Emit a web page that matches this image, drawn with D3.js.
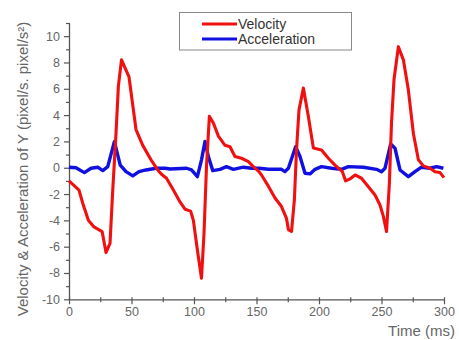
<!DOCTYPE html>
<html>
<head>
<meta charset="utf-8">
<script src="https://cdn.jsdelivr.net/npm/d3@7"></script>
<style>
  body { margin: 0; background: #fff; }
  text { font-family: "Liberation Sans", Arial, sans-serif; }
</style>
</head>
<body>
<svg id="chart" width="459" height="340"></svg>
<script>
// velocity of Y (time in ms)
const velocityTime = [0, 8, 11, 15.5, 20, 26.5, 29.6, 32.8, 35, 37.6, 39.5, 42, 48, 53.6, 59, 65.6, 71, 74,
  78, 83.5, 88.8, 92.8, 97.3, 99.5, 102.7, 106, 108, 110, 112.3, 115.5, 119.5, 124.8, 128.8, 132.8, 138, 143.5, 147.5,
  152, 154, 159.5, 164.8, 170, 174, 175.5, 178, 180.3, 182, 184, 187.5, 191.5, 195.5, 202, 207.5, 212.8, 218.7, 221.3,
  224.8, 228.8, 234, 239.5, 244.8, 248.8, 251.5, 254, 256.3, 258, 260, 263.5, 267.5, 271.5, 275.5, 279.5, 283.5, 288.8,
  292.8, 296.8, 300];
const velocityValues = [-1.0, -1.7, -2.7, -4.0, -4.5, -4.85, -6.45, -5.75, -1.7, 2.6, 6.2, 8.2, 6.9, 2.9, 1.7, 0.6, -0.17, -0.5,
  -0.8, -1.7, -2.6, -3.15, -3.3, -4.0, -6.25, -8.4, -5.0, 0.1, 3.9, 3.4, 2.4, 1.7, 1.6, 0.85, 0.72, 0.47, 0.08,
  -0.3, -0.55, -1.4, -2.3, -2.95, -3.85, -4.7, -4.85, -2.45, 1.35, 4.4, 6.05, 3.9, 1.5, 1.35, 0.72, 0.2, -0.3, -1.0,
  -0.85, -0.55, -0.8, -1.45, -2.07, -2.83, -3.7, -4.85, -1.2, 3.4, 6.7, 9.2, 8.2, 5.9, 2.6, 0.6, 0.14, -0.04,
  -0.3, -0.37, -0.75];

// acceleration of Y
const accelTime = [0, 5.6, 12.3, 17.6, 23, 27, 31, 36.3, 41, 45.6, 51, 56, 61.6, 69.6, 77,
  80.8, 94, 98, 102.7, 106, 108.8, 111.5, 115, 120.8, 126, 131.5, 139.5, 146, 152.3,
  159.5, 170, 172.8, 175.5, 181.3, 184.8, 188.8, 192.8, 196.8, 202, 210, 218, 223.5,
  235.5, 246, 250, 252.8, 257.3, 260.8, 264.8, 271.5, 276.8, 282, 288.8, 294, 299.5];
const accelValues = [0.04, 0, -0.37, -0.04, 0.04, -0.22, 0.08, 1.98, 0.2, -0.3, -0.62, -0.3, -0.17, -0.04, -0.04,
  -0.1, -0.04, -0.17, -0.68, 0.6, 2.0, 0.85, -0.22, -0.12, 0.08, -0.12, 0.04, -0.04, -0.04,
  -0.12, -0.12, -0.3, -0.04, 1.6, 0.85, -0.42, -0.47, -0.12, 0.08, -0.04, -0.12, 0.08,
  0.04, -0.12, -0.3, -0.04, 1.8, 1.48, -0.17, -0.68, -0.3, 0.04, -0.04, 0.08, -0.04];

const xMajor = [0, 50, 100, 150, 200, 250, 300];
const xMinor = [25, 75, 125, 175, 225, 275];
const yMajor = [-10, -8, -6, -4, -2, 0, 2, 4, 6, 8, 10];
const yMinor = [-9, -7, -5, -3, -1, 1, 3, 5, 7, 9, 11];
const seriesNames = ['Velocity', 'Acceleration'];
const seriesColors = ['#f01010', '#1010e0'];

const svg = d3.select('#chart');
const x = d3.scaleLinear().domain([0, 300]).range([69, 444]);
const y = d3.scaleLinear().domain([-10, 11]).range([299.3, 23]);
const axisColor = '#555';
const labelColor = '#666';

// x axis
const gx = svg.append('g').attr('transform', 'translate(0,' + y(-10) + ')');
gx.call(d3.axisBottom(x).tickValues(xMajor).tickSize(5).tickSizeOuter(0).tickPadding(3));
gx.append('g').call(d3.axisBottom(x).tickValues(xMinor).tickSize(3).tickFormat(''))
  .select('.domain').remove();
gx.selectAll('.tick line').attr('y1', -2);

// y axis
const gy = svg.append('g').attr('transform', 'translate(' + x(0) + ',0)');
gy.call(d3.axisLeft(y).tickValues(yMajor).tickSize(5).tickSizeOuter(0).tickPadding(4)
  .tickFormat(d => String(d).replace('\u2212', '-')));
gy.append('g').call(d3.axisLeft(y).tickValues(yMinor).tickSize(3).tickFormat(''))
  .select('.domain').remove();
gy.selectAll('.tick line').attr('x1', 1);

svg.selectAll('.domain').attr('stroke', axisColor).attr('stroke-width', 1.3);
svg.selectAll('.tick line').attr('stroke', axisColor).attr('stroke-width', 1.2);
svg.selectAll('.tick text').attr('fill', labelColor).style('font-size', '12.5px')
  .style('font-family', '"Liberation Sans", Arial, sans-serif');

// axis titles
svg.append('text')
  .attr('transform', 'translate(28,' + 169 + ') rotate(-90)')
  .attr('text-anchor', 'middle')
  .attr('fill', labelColor)
  .style('font-size', '15px')
  .text('Velocity & Acceleration of Y (pixel/s. pixel/s\u00B2)');
svg.append('text')
  .attr('x', 455).attr('y', 336)
  .attr('text-anchor', 'end')
  .attr('fill', labelColor)
  .style('font-size', '15px')
  .text('Time (ms)');

// lines
const line = d3.line().x(d => x(d[0])).y(d => y(d[1]));
const accel = accelTime.map((t, i) => [t, accelValues[i]]);
const velocity = velocityTime.map((t, i) => [t, velocityValues[i]]);
svg.append('path').datum(accel).attr('d', line)
  .attr('fill', 'none').attr('stroke', seriesColors[1]).attr('stroke-width', 3.4)
  .attr('stroke-linejoin', 'round');
svg.append('path').datum(velocity).attr('d', line)
  .attr('fill', 'none').attr('stroke', seriesColors[0]).attr('stroke-width', 3.1)
  .attr('stroke-linejoin', 'round');

// legend
const lg = svg.append('g');
lg.append('rect').attr('x', 179.5).attr('y', 12.5).attr('width', 172).attr('height', 37.5)
  .attr('fill', '#fff').attr('stroke', '#888').attr('stroke-width', 1);
seriesNames.forEach((name, i) => {
  const yy = 24 + i * 15;
  lg.append('line').attr('x1', 202).attr('x2', 237).attr('y1', yy).attr('y2', yy)
    .attr('stroke', seriesColors[i]).attr('stroke-width', 3.2);
  lg.append('text').attr('x', 238).attr('y', yy + 5)
    .attr('fill', '#333').style('font-size', '14px').text(name);
});
</script>
</body>
</html>
